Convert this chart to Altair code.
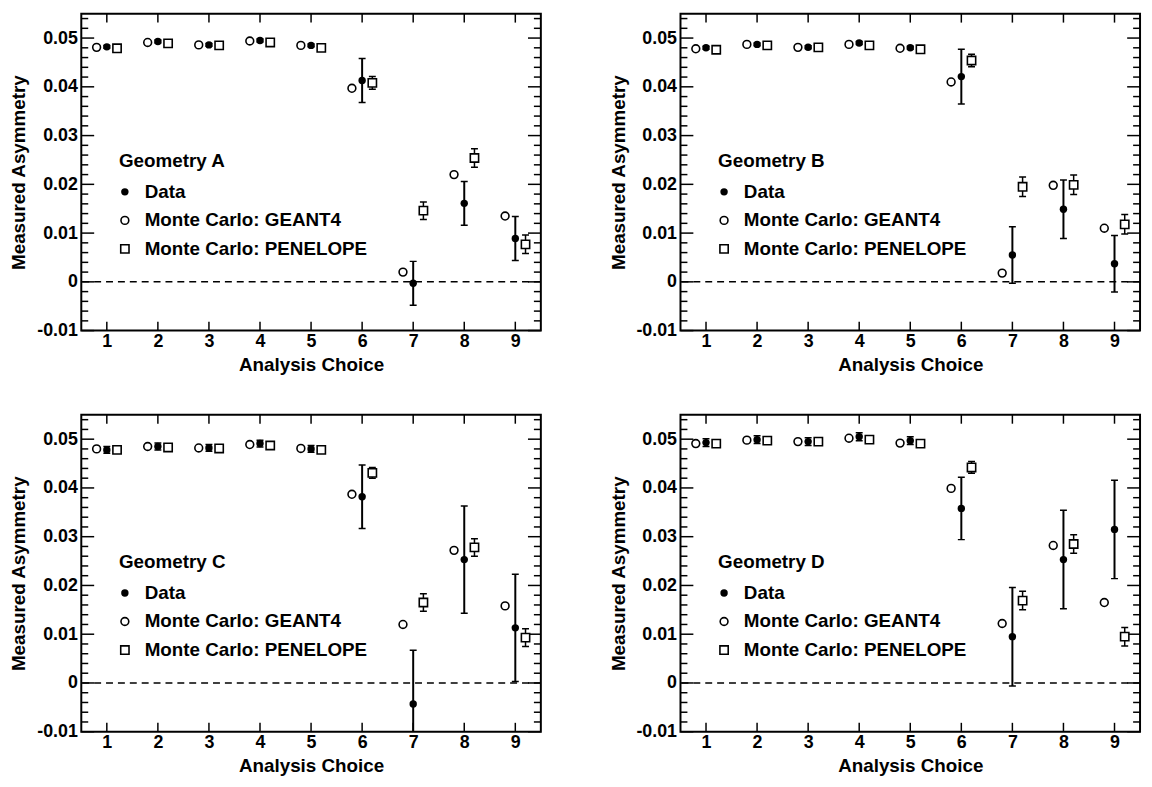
import altair as alt
import pandas as pd

# ---------------- data ----------------
choices = [1, 2, 3, 4, 5, 6, 7, 8, 9]
geometries = ["A", "B", "C", "D"]

data_A = [0.0482, 0.0493, 0.0486, 0.0495, 0.0485, 0.0413, -0.0003, 0.0161, 0.0089]
data_A_err = [0.0003, 0.0003, 0.0003, 0.0003, 0.0003, 0.0045, 0.0045, 0.0045, 0.0045]
geant4_A = [0.0481, 0.0491, 0.0486, 0.0494, 0.0485, 0.0397, 0.0020, 0.0220, 0.0135]
penelope_A = [0.0479, 0.0489, 0.0485, 0.0491, 0.0480, 0.0408, 0.0146, 0.0254, 0.0077]
penelope_A_err = [0.0003, 0.0003, 0.0003, 0.0003, 0.0003, 0.0013, 0.0018, 0.0019, 0.0019]

data_B = [0.0480, 0.0487, 0.0481, 0.0490, 0.0480, 0.0421, 0.0055, 0.0149, 0.0037]
data_B_err = [0.0003, 0.0003, 0.0003, 0.0003, 0.0003, 0.0056, 0.0058, 0.0060, 0.0058]
geant4_B = [0.0478, 0.0487, 0.0481, 0.0487, 0.0479, 0.0410, 0.0018, 0.0198, 0.0110]
penelope_B = [0.0476, 0.0485, 0.0481, 0.0485, 0.0477, 0.0454, 0.0195, 0.0199, 0.0118]
penelope_B_err = [0.0003, 0.0003, 0.0003, 0.0003, 0.0003, 0.0013, 0.0020, 0.0020, 0.0020]

data_C = [0.0478, 0.0485, 0.0482, 0.0491, 0.0480, 0.0382, -0.0043, 0.0253, 0.0113]
data_C_err = [0.0007, 0.0007, 0.0007, 0.0007, 0.0007, 0.0065, 0.0110, 0.0110, 0.0110]
geant4_C = [0.0480, 0.0485, 0.0482, 0.0489, 0.0481, 0.0387, 0.0120, 0.0272, 0.0158]
penelope_C = [0.0478, 0.0483, 0.0481, 0.0487, 0.0478, 0.0431, 0.0165, 0.0278, 0.0093]
penelope_C_err = [0.0004, 0.0004, 0.0004, 0.0004, 0.0004, 0.0011, 0.0018, 0.0018, 0.0018]

data_D = [0.0493, 0.0499, 0.0495, 0.0505, 0.0497, 0.0358, 0.0095, 0.0253, 0.0315]
data_D_err = [0.0008, 0.0008, 0.0008, 0.0008, 0.0008, 0.0064, 0.0101, 0.0101, 0.0101]
geant4_D = [0.0491, 0.0498, 0.0495, 0.0502, 0.0492, 0.0399, 0.0122, 0.0282, 0.0165]
penelope_D = [0.0491, 0.0497, 0.0495, 0.0499, 0.0491, 0.0442, 0.0169, 0.0285, 0.0095]
penelope_D_err = [0.0004, 0.0004, 0.0004, 0.0004, 0.0004, 0.0012, 0.0019, 0.0019, 0.0019]

y_major_ticks = [-0.01, 0.0, 0.01, 0.02, 0.03, 0.04, 0.05]
y_minor_ticks = [-0.008, -0.006, -0.004, -0.002, 0.002, 0.004, 0.006, 0.008,
                 0.012, 0.014, 0.016, 0.018, 0.022, 0.024, 0.026, 0.028,
                 0.032, 0.034, 0.036, 0.038, 0.042, 0.044, 0.046, 0.048,
                 0.052, 0.054]
legend_labels = ["Data", "Monte Carlo: GEANT4", "Monte Carlo: PENELOPE"]

series = {
    "A": (data_A, data_A_err, geant4_A, penelope_A, penelope_A_err),
    "B": (data_B, data_B_err, geant4_B, penelope_B, penelope_B_err),
    "C": (data_C, data_C_err, geant4_C, penelope_C, penelope_C_err),
    "D": (data_D, data_D_err, geant4_D, penelope_D, penelope_D_err),
}

# ---------------- style ----------------
FONT = "Liberation Sans"
W, H = 464, 320
SHIFT = 0.2 * W / 9.0  # horizontal offset of MC points (0.2 analysis-choice units)
REF_H = 322.0

xs = alt.Scale(domain=[0.5, 9.5], nice=False, zero=False)
ys = alt.Scale(domain=[-0.01, 0.055], nice=False, zero=False)

xaxis = alt.Axis(values=choices, format="d", title="Analysis Choice",
                 labelPadding=2, titlePadding=5, labelOverlap=False)
yaxis = alt.Axis(values=y_major_ticks, title="Measured Asymmetry",
                 labelExpr="datum.value == 0 ? '0' : (datum.value < 0 ? '-' + format(abs(datum.value), '.2f') : format(datum.value, '.2f'))",
                 labelPadding=4, titlePadding=8, labelOverlap=False)


def X(field):
    return alt.X(field, type="quantitative", scale=xs, axis=xaxis)


def Y(field):
    return alt.Y(field, type="quantitative", scale=ys, axis=yaxis)


def panel(g):
    d, de, g4, pe, pee = series[g]
    df = pd.DataFrame({
        "choice": choices,
        "data": d,
        "data_lo": [v - e for v, e in zip(d, de)],
        "data_hi": [v + e for v, e in zip(d, de)],
        "geant4": g4,
        "pen": pe,
        "pen_lo": [v - e for v, e in zip(pe, pee)],
        "pen_hi": [v + e for v, e in zip(pe, pee)],
    })
    base = alt.Chart(df)
    layers = []

    # zero dashed line
    layers.append(alt.Chart(pd.DataFrame({"v": [0.0]})).mark_rule(
        strokeDash=[7, 5], strokeWidth=1.5, color="black").encode(y=Y("v")))

    # inward ticks
    ymaj = alt.Chart(pd.DataFrame({"v": y_major_ticks}))
    ymin = alt.Chart(pd.DataFrame({"v": y_minor_ticks}))
    xt = alt.Chart(pd.DataFrame({"c": choices}))
    tk = dict(color="black", strokeWidth=1.5)
    layers += [
        ymaj.mark_rule(**tk).encode(y=Y("v"), x=alt.value(0), x2=alt.value(13)),
        ymaj.mark_rule(**tk).encode(y=Y("v"), x=alt.value(W - 13), x2=alt.value(W)),
        ymin.mark_rule(**tk).encode(y=Y("v"), x=alt.value(0), x2=alt.value(7)),
        ymin.mark_rule(**tk).encode(y=Y("v"), x=alt.value(W - 7), x2=alt.value(W)),
        xt.mark_rule(**tk).encode(x=X("c"), y=alt.value(H - 9), y2=alt.value(H)),
        xt.mark_rule(**tk).encode(x=X("c"), y=alt.value(0), y2=alt.value(9)),
    ]

    # Data error bars + caps
    layers += [
        base.mark_rule(color="black", strokeWidth=2, clip=True).encode(
            x=X("choice"), y=Y("data_lo"), y2="data_hi"),
        base.mark_tick(orient="horizontal", size=7, thickness=1.5, color="black",
                       clip=True, opacity=1).encode(x=X("choice"), y=Y("data_hi")),
        base.mark_tick(orient="horizontal", size=7, thickness=1.5, color="black",
                       clip=True, opacity=1).encode(x=X("choice"), y=Y("data_lo")),
    ]
    # PENELOPE error bars + caps
    layers += [
        base.mark_rule(color="black", strokeWidth=1.5, clip=True).encode(
            x=X("choice"), y=Y("pen_lo"), y2="pen_hi", xOffset=alt.value(SHIFT)),
        base.mark_tick(orient="horizontal", size=7, thickness=1.5, color="black",
                       clip=True, opacity=1).encode(
            x=X("choice"), y=Y("pen_hi"), xOffset=alt.value(SHIFT)),
        base.mark_tick(orient="horizontal", size=7, thickness=1.5, color="black",
                       clip=True, opacity=1).encode(
            x=X("choice"), y=Y("pen_lo"), xOffset=alt.value(SHIFT)),
    ]
    # markers
    layers += [
        base.mark_point(shape="square", filled=True, fill="white", stroke="black",
                        strokeWidth=1.6, size=70, opacity=1).encode(
            x=X("choice"), y=Y("pen"), xOffset=alt.value(SHIFT)),
        base.mark_point(shape="circle", filled=False, stroke="black",
                        strokeWidth=1.6, size=62, opacity=1).encode(
            x=X("choice"), y=Y("geant4"), xOffset=alt.value(-SHIFT)),
        base.mark_point(shape="circle", filled=True, color="black",
                        size=56, opacity=1).encode(x=X("choice"), y=Y("data")),
    ]

    # in-plot legend
    def sy(v):
        return v * H / REF_H
    txt = dict(align="left", baseline="middle", font=FONT, fontWeight="bold",
               fontSize=19, color="black")
    layers.append(alt.Chart(pd.DataFrame({"t": ["Geometry " + g]})).mark_text(**txt).encode(
        x=alt.value(38), y=alt.value(sy(150)), text="t:N"))
    rows = [181, 210, 239]
    for lab, ry in zip(legend_labels, rows):
        layers.append(alt.Chart(pd.DataFrame({"t": [lab]})).mark_text(**txt).encode(
            x=alt.value(64), y=alt.value(sy(ry)), text="t:N"))
    sym = alt.Chart(pd.DataFrame({"t": [0]}))
    layers += [
        sym.mark_point(shape="circle", filled=True, color="black", size=56, opacity=1).encode(
            x=alt.value(44), y=alt.value(sy(rows[0]))),
        sym.mark_point(shape="circle", filled=False, stroke="black", strokeWidth=1.6,
                       size=62, opacity=1).encode(x=alt.value(44), y=alt.value(sy(rows[1]))),
        sym.mark_point(shape="square", filled=True, fill="white", stroke="black",
                       strokeWidth=1.6, size=70, opacity=1).encode(
            x=alt.value(44), y=alt.value(sy(rows[2]))),
    ]
    return alt.layer(*layers).properties(width=W, height=H)


chart = alt.concat(
    *[panel(g) for g in geometries],
    columns=2,
    spacing={"row": 85, "column": 141},
    bounds="flush",
).properties(
    padding={"left": 0, "top": 0, "right": 2, "bottom": 0},
    background="white",
).configure_view(
    stroke="black", strokeWidth=2, fill="white"
).configure_axis(
    labelFont=FONT, labelFontWeight="bold", labelFontSize=18, labelColor="black",
    titleFont=FONT, titleFontWeight="bold", titleFontSize=19, titleColor="black",
    ticks=False, domain=False, grid=False,
)

chart.save("out.html", embed_options={"renderer": "svg", "actions": False})
